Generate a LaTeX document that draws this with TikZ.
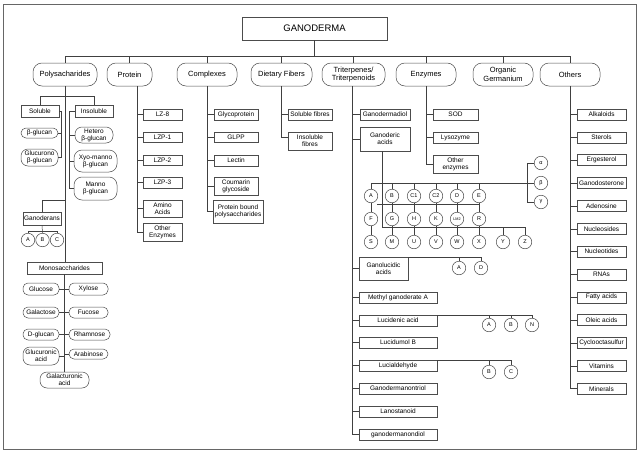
\documentclass[tikz,border=0pt]{standalone}
\usepackage{fontspec}
\setmainfont{Liberation Sans}
\begin{document}
\begin{tikzpicture}[x=1pt,y=-1pt]
\tikzset{
 ln/.style={draw=black!75, line width=0.5pt},
 sq/.style={draw=black!70, line width=0.5pt, inner sep=0pt, align=center, font=\fontsize{6.5}{7}\selectfont, text=black},
 pill/.style={sq, rounded corners=5pt},
 cat/.style={draw=black!70, line width=0.5pt, rounded corners=9pt, inner sep=0pt, align=center, font=\fontsize{7.5}{8.5}\selectfont, text=black},
 circ/.style={circle, draw=black!70, line width=0.5pt, inner sep=0pt, minimum size=13.5pt, font=\fontsize{5.5}{6}\selectfont, text=black},
 wh/.style 2 args={minimum width=#1pt, minimum height=#2pt},
}
\useasboundingbox (0,0) rectangle (640,455);
\draw[black!60, line width=0.6pt] (3,4) rectangle (636,449);

% top
\node[sq, wh={145}{23}, font=\fontsize{9.5}{10}\selectfont] (gan) at (314.5,28.5) {GANODERMA};
\coordinate (busL) at (65,56); \coordinate (busR) at (570,56);
\draw[ln] (gan.south) -- (gan.south |- busL);
\draw[ln] (busL) -- (busR);

\node[cat, wh={64}{23}] (poly) at (65,74.5) {Polysacharides};
\node[cat, wh={45}{23}] (prot) at (129.5,74.5) {Protein};
\node[cat, wh={60}{23}] (comp) at (207,74.5) {Complexes};
\node[cat, wh={61}{23}] (diet) at (281.5,74.5) {Dietary Fibers};
\node[cat, wh={63}{23}] (trit) at (353.5,74.5) {Triterpenes/\\Triterpenoids};
\node[cat, wh={60}{23}] (enz) at (426,74.5) {Enzymes};
\node[cat, wh={60}{23}] (org) at (503,74.5) {Organic\\Germanium};
\node[cat, wh={60}{23}] (oth) at (570,74.5) {Others};
\foreach \n in {poly,prot,comp,diet,trit,enz,org,oth} \draw[ln] (\n.north) -- (\n.north |- busL);

% Polysaccharides
\node[sq, wh={38}{12}] (sol) at (40,111) {Soluble};
\node[sq, wh={38}{12}] (ins) at (94,111) {Insoluble};
\draw[ln] (sol.north) -- ++(0,-9) -| (ins.north);
\node[pill, wh={37}{10}] (bglu) at (39.5,133) {β-glucan};
\node[pill, wh={37}{17}, rounded corners=7pt] (gluc) at (39.5,157.5) {Glucurono\\β-glucan};
\draw[ln] (sol.east) -- ++(2,0) |- (gluc.east);
\draw[ln] (bglu.east) -- (bglu.east -| 61,0);
\node[pill, wh={38}{16}, rounded corners=7pt] (het) at (94,135) {Hetero\\β-glucan};
\node[pill, wh={43}{22}, rounded corners=8pt] (xyo) at (95.5,161) {Xyo-manno\\β-glucan};
\node[pill, wh={43}{23}, rounded corners=8pt] (man) at (95.5,188.5) {Manno\\β-glucan};
\draw[ln] (ins.west) -- (69,111) |- (man.west);
\draw[ln] (het.west) -- (het.west -| 69,0);
\draw[ln] (xyo.west) -- (xyo.west -| 69,0);

\node[sq, wh={38}{13}] (gans) at (42,218.5) {Ganoderans};
\draw[ln] (poly.south |- 0,200) -| (gans.north);
\node[circ] (gA) at (28,240) {A};
\node[circ] (gB) at (42.5,240) {B};
\node[circ] (gC) at (57,240) {C};
\draw[ln] (gans.south) -- (gB.north);
\draw[ln] (gA.north) |- (gC.north |- 0,231) -- (gC.north);

\node[sq, wh={75}{12}] (mono) at (64.5,268) {Monosaccharides};
\draw[ln] (poly.south) -- (poly.south |- mono.north);
\node[pill, wh={36}{12}] (glc) at (41,289) {Glucose};
\node[pill, wh={36}{11}] (gal) at (41,312.5) {Galactose};
\node[pill, wh={36}{11}] (dgl) at (41,334.5) {D-glucan};
\node[pill, wh={36}{18}, rounded corners=7pt] (glr) at (41,356) {Glucuronic\\acid};
\node[pill, wh={39}{12}] (xyl) at (88.5,289) {Xylose};
\node[pill, wh={39}{11}] (fuc) at (88.5,312.5) {Fucose};
\node[pill, wh={41}{11}] (rha) at (89.5,334.5) {Rhamnose};
\node[pill, wh={39}{10}] (ara) at (88.5,354) {Arabinose};
\node[pill, wh={49}{16}, rounded corners=7pt] (galu) at (64.5,380) {Galacturonic\\acid};
\draw[ln] (mono.south) -- (galu.north);
\draw[ln] (glc.east) -- (xyl.west);
\draw[ln] (gal.east) -- (fuc.west);
\draw[ln] (dgl.east) -- (rha.west);
\draw[ln] (glr.east) -- (glr.east -| mono.south);
\draw[ln] (ara.west) -- (ara.west -| mono.south);

% Protein
\coordinate (pv) at (137,86);
\node[sq, wh={39}{11}] (lz8) at (162.5,114.5) {LZ-8};
\node[sq, wh={39}{10}] (lzp1) at (162.5,137) {LZP-1};
\node[sq, wh={39}{10}] (lzp2) at (162.5,160) {LZP-2};
\node[sq, wh={39}{11}] (lzp3) at (162.5,182.5) {LZP-3};
\node[sq, wh={39}{17}] (amino) at (162.5,208.5) {Amino\\Acids};
\node[sq, wh={39}{18}] (poe) at (162.5,232) {Other\\Enzymes};
\draw[ln] (pv) |- (poe.west);
\foreach \n in {lz8,lzp1,lzp2,lzp3,amino} \draw[ln] (\n.west) -- (\n.west -| pv);

% Complexes
\node[sq, wh={44}{11}] (glyco) at (236,114.5) {Glycoprotein};
\node[sq, wh={44}{10}] (glpp) at (236,137) {GLPP};
\node[sq, wh={44}{11}] (lect) at (236,160.5) {Lectin};
\node[sq, wh={44}{18}] (coum) at (236,186) {Coumarin\\glycoside};
\node[sq, wh={50}{23}] (pbp) at (238,211.5) {Protein bound\\polysaccharides};
\draw[ln] (comp.south) |- (pbp.west);
\foreach \n in {glyco,glpp,lect,coum} \draw[ln] (\n.west) -- (\n.west -| comp.south);

% Dietary fibers
\node[sq, wh={44}{11}] (sf) at (310,114.5) {Soluble fibres};
\node[sq, wh={44}{18}] (isf) at (310,141) {Insoluble\\fibres};
\draw[ln] (diet.south) |- (isf.west |- 0,137);
\draw[ln] (sf.west) -- (sf.west -| diet.south);

% Triterpenes
\coordinate (tv) at (352,86);
\node[sq, wh={50}{11}] (gdiol) at (385,114.5) {Ganodermadiol};
\node[sq, wh={50}{24}] (gacid) at (385,139) {Ganoderic\\acids};
\node[sq, wh={49}{23}] (glucid) at (383.5,268.5) {Ganolucidic\\acids};
\node[sq, wh={78}{11}] (methyl) at (398,297.5) {Methyl ganoderate A};
\node[sq, wh={78}{11}] (lucid) at (398,320.5) {Lucidenic acid};
\node[sq, wh={78}{11}] (lucm) at (398,342.5) {Lucidumol B};
\node[sq, wh={78}{11}] (lucal) at (398,365.5) {Lucialdehyde};
\node[sq, wh={78}{11}] (gtri) at (398,388.5) {Ganodermanontriol};
\node[sq, wh={78}{11}] (lano) at (398,411.5) {Lanostanoid};
\node[sq, wh={78}{11}] (gdiol2) at (398,434.5) {ganodermanondiol};
\draw[ln] (tv) |- (gdiol2.west);
\foreach \n in {gdiol,gacid,glucid,methyl,lucid,lucm,lucal,gtri,lano} \draw[ln] (\n.west) -- (\n.west -| tv);

% Ganoderic acid circles
\foreach \n/\t/\x in {cA/A/371, cB/B/392, cC1/C1/414, cC2/C2/436, cD/D/457, cE/E/479}
  \node[circ] (\n) at (\x,196) {\t};
\foreach \n/\t/\x in {cF/F/371, cG/G/392, cH/H/414, cK/K/436, cR/R/479}
  \node[circ] (\n) at (\x,219) {\t};
\node[circ, font=\fontsize{3.8}{3.8}\selectfont] (cLM) at (457,219) {LM\\2};
\foreach \n/\t/\x in {cS/S/371, cM/M/392, cU/U/414, cV/V/436, cW/W/457, cX/X/479, cY/Y/503, cZ/Z/525}
  \node[circ] (\n) at (\x,242) {\t};
\node[circ] (cal) at (541,163) {α};
\node[circ] (cbe) at (541,183) {β};
\node[circ] (cga) at (541,202) {γ};
\draw[ln] (382,151) -- (382,227);
\draw[ln] (cA.north) |- (cbe.west);
\foreach \n in {cB,cC1,cC2,cD,cE} \draw[ln] (\n.north) -- (\n.north |- cbe.west);
\draw[ln] (cal.west) -| (cga.west -| 527,0) -- (cga.west);
\draw[ln] (377,204) -- (cE.south |- 0,204);
\draw[ln] (cA.south) -- (cF.north);
\draw[ln] (cB.south) -- (cG.north);
\draw[ln] (cC1.south) -- (cH.north);
\draw[ln] (cC2.south) -- (cK.north);
\draw[ln] (cD.south) -- (cLM.north);
\draw[ln] (cE.south) -- (cR.north);
\draw[ln] (cF.south) -- (cS.north);
\draw[ln] (cG.south) -- (cM.north);
\draw[ln] (cH.south) -- (cU.north);
\draw[ln] (cK.south) -- (cV.north);
\draw[ln] (cLM.south) -- (cW.north);
\draw[ln] (cR.south) -- (cX.north);
\draw[ln] (382,227) -| (cZ.north);
\draw[ln] (cY.north) -- (cY.north |- 0,227);

% Ganolucidic circles
\node[circ] (gla) at (459,268) {A};
\node[circ] (gld) at (481,268) {D};
\draw[ln] (glucid.north east) -| (gld.north);
\draw[ln] (gla.north) -- (gla.north |- glucid.north);
% Lucidenic circles
\node[circ] (lda) at (489,325) {A};
\node[circ] (ldb) at (511,325) {B};
\node[circ] (ldn) at (532,325) {N};
\draw[ln] (lucid.north east) -| (ldn.north);
\draw[ln] (lda.north) -- (lda.north |- lucid.north);
\draw[ln] (ldb.north) -- (ldb.north |- lucid.north);
% Lucialdehyde circles
\node[circ] (lab) at (489,372) {B};
\node[circ] (lac) at (511,372) {C};
\draw[ln] (lucal.north east) -| (lac.north);
\draw[ln] (lab.north) -- (lab.north |- lucal.north);

% Enzymes
\node[sq, wh={45}{11}] (sod) at (455.5,114.5) {SOD};
\node[sq, wh={45}{11}] (lyso) at (455.5,137.5) {Lysozyme};
\node[sq, wh={45}{18}] (oez) at (455.5,164) {Other\\enzymes};
\draw[ln] (enz.south) |- (oez.west);
\foreach \n in {sod,lyso} \draw[ln] (\n.west) -- (\n.west -| enz.south);

% Others
\foreach \t [count=\i] in {Alkaloids, Sterols, Ergesterol, Ganodosterone, Adenosine, Nucleosides, Nucleotides, RNAs, Fatty acids, Oleic acids, Cyclooctasulfur, Vitamins, Minerals} {
  \node[sq, wh={49}{11}] (o\i) at (601.5,{114.5+22.85*(\i-1)}) {\t};
  \draw[ln] (o\i.west) -- (o\i.west -| oth.south);
}
\draw[ln] (oth.south) -- (oth.south |- o13.west);
\end{tikzpicture}
\end{document}
